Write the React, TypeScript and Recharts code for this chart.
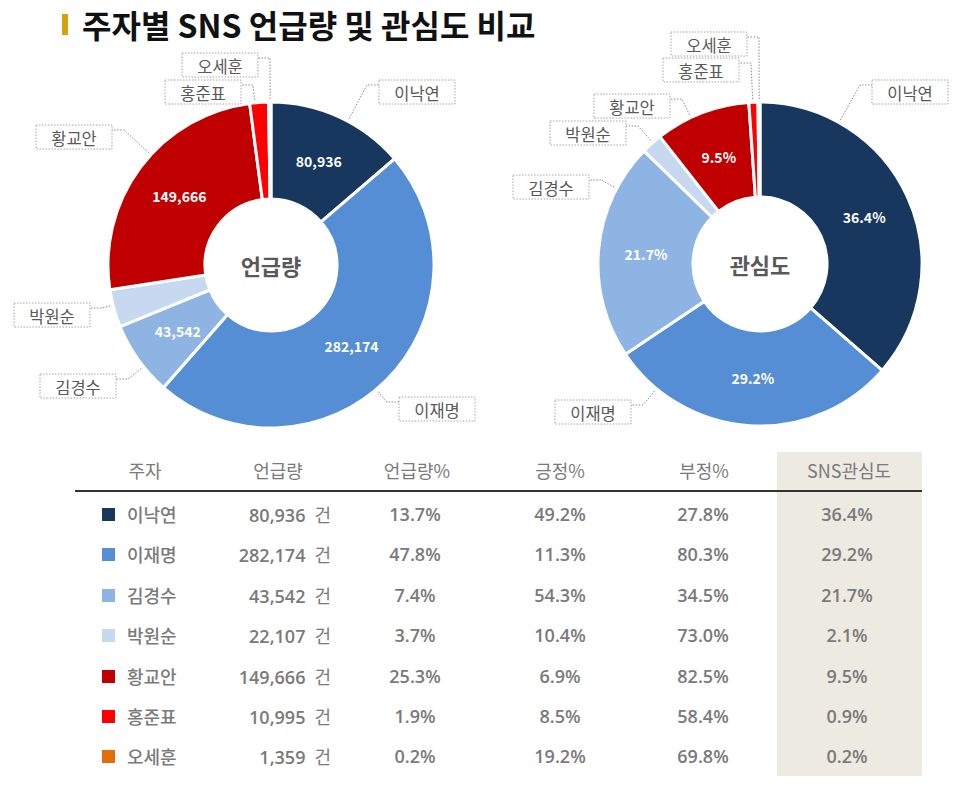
import { PieChart, Pie, Cell } from 'recharts';

const candidates = ['이낙연', '이재명', '김경수', '박원순', '황교안', '홍준표', '오세훈'];
const mentions = [80936, 282174, 43542, 22107, 149666, 10995, 1359];
const mentionPct = [13.7, 47.8, 7.4, 3.7, 25.3, 1.9, 0.2];
const positivePct = [49.2, 11.3, 54.3, 10.4, 6.9, 8.5, 19.2];
const negativePct = [27.8, 80.3, 34.5, 73.0, 82.5, 58.4, 69.8];
const interestPct = [36.4, 29.2, 21.7, 2.1, 9.5, 0.9, 0.2];

const sliceColors = ['#17375E', '#558ED5', '#8EB4E3', '#C6D9F1', '#C00000', '#FF0000', '#E46C0A'];

const FONT = '"Noto Sans CJK KR", "Noto Sans", sans-serif';
const TABLE_FONT = '"Open Sans", "Noto Sans CJK KR", sans-serif';
const RADIAN = Math.PI / 180;

// 콜아웃 상자 위치 (파이 중심 기준 오프셋), side = 지시선이 붙는 쪽
type Callout = { dx: number; dy: number; side: 'left' | 'right' };
const leftCallouts: Record<string, Callout> = {
  이낙연: { dx: 146, dy: -173, side: 'left' },
  이재명: { dx: 166, dy: 144, side: 'left' },
  김경수: { dx: -193, dy: 121, side: 'right' },
  박원순: { dx: -219, dy: 50, side: 'right' },
  황교안: { dx: -197, dy: -128, side: 'right' },
  홍준표: { dx: -68, dy: -173, side: 'right' },
  오세훈: { dx: -51, dy: -200, side: 'right' },
};
const rightCallouts: Record<string, Callout> = {
  이낙연: { dx: 150, dy: -172, side: 'left' },
  이재명: { dx: -167, dy: 148, side: 'right' },
  김경수: { dx: -209, dy: -77, side: 'right' },
  박원순: { dx: -172, dy: -131, side: 'right' },
  황교안: { dx: -128, dy: -158, side: 'right' },
  홍준표: { dx: -59, dy: -194, side: 'right' },
  오세훈: { dx: -51, dy: -220, side: 'right' },
};

const mentionData = candidates.map((name, i) => ({ name, value: mentions[i], pct: mentionPct[i], text: mentions[i].toLocaleString('en-US') }));
const interestData = candidates.map((name, i) => ({ name, value: interestPct[i], pct: interestPct[i], text: `${interestPct[i].toFixed(1)}%` }));

const BOX_W = 76;
const BOX_H = 24;

// 지시선이 닿는 각도: 상자 쪽 방향을 조각 범위 안으로 제한
function anchorAngle(target: number, start: number, end: number) {
  const hi = Math.max(start, end) - 0.3;
  const lo = Math.min(start, end) + 0.3;
  let a = target;
  while (a > hi) a -= 360;
  while (a < lo - 360) a += 360;
  if (a >= lo) return a;
  const dLo = lo - a;
  const dHi = a + 360 - hi;
  return dLo < dHi ? lo : hi;
}

function makeLabel(callouts: Record<string, Callout>) {
  return (props: any) => {
    const { cx, cy, midAngle, innerRadius, outerRadius, index, percent } = props;
    const name = props.name ?? props.payload?.name;
    const entry = props.payload ?? {};
    const cos = Math.cos(-midAngle * RADIAN);
    const sin = Math.sin(-midAngle * RADIAN);
    const rMid = (innerRadius + outerRadius) / 2;
    const c = callouts[name];
    const bx = cx + c.dx;
    const by = cy + c.dy;
    const ax = c.side === 'left' ? bx - BOX_W / 2 : bx + BOX_W / 2;
    const ay = by - BOX_H / 2 + 5;
    const ex = c.side === 'left' ? ax - 12 : ax + 12;
    const half = percent * 180;
    const target = Math.atan2(-(ay - cy), ex - cx) / RADIAN;
    const ang = anchorAngle(target, midAngle + half, midAngle - half);
    const px = cx + (outerRadius + 3) * Math.cos(-ang * RADIAN);
    const py = cy + (outerRadius + 3) * Math.sin(-ang * RADIAN);
    return (
      <g key={`lbl-${index}`}>
        {entry.pct >= 5 && (
          <text x={cx + rMid * cos} y={cy + rMid * sin} fill="#fff" fontSize={14} fontWeight={700}
            textAnchor="middle" dominantBaseline="central" fontFamily={FONT}>
            {entry.text}
          </text>
        )}
        <polyline points={`${px},${py} ${ex},${ay} ${ax},${ay}`} fill="none" stroke="#8C8C8C"
          strokeWidth={1} strokeDasharray="1.5 1.5" />
        <rect x={bx - BOX_W / 2} y={by - BOX_H / 2} width={BOX_W} height={BOX_H} fill="#fff"
          stroke="#A6A6A6" strokeWidth={1} strokeDasharray="1.5 1.5" />
        <text x={bx} y={by + 1} fill="#595959" fontSize={16.5} textAnchor="middle" dominantBaseline="central"
          fontFamily={FONT}>
          {name}
        </text>
      </g>
    );
  };
}

const columns = [
  { key: 'mention', title: '언급량', center: 278 },
  { key: 'mentionPct', title: '언급량%', center: 417 },
  { key: 'pos', title: '긍정%', center: 560 },
  { key: 'neg', title: '부정%', center: 704 },
  { key: 'interest', title: 'SNS관심도', center: 849 },
];

export default function App() {
  const rowY = (i: number) => 514 + i * 40.4;
  const cellStyle = (x: number, y: number, w = 120): React.CSSProperties => ({
    position: 'absolute',
    left: x - w / 2,
    top: y - 14,
    width: w,
    height: 28,
    lineHeight: '28px',
    textAlign: 'center',
    fontSize: 18,
    fontWeight: 600,
    fontFamily: TABLE_FONT,
    color: '#7A7A7A',
  });
  const headStyle = (x: number, w = 140): React.CSSProperties => ({
    ...cellStyle(x, 470, w),
    fontWeight: 400,
    fontFamily: FONT,
  });

  return (
    <div style={{ position: 'relative', width: 960, height: 790, fontFamily: FONT, background: '#fff', overflow: 'hidden' }}>
      <style>{'body{margin:0}'}</style>
      {/* 제목 */}
      <div style={{ position: 'absolute', left: 62, top: 14, width: 6, height: 21, background: '#D4A20C' }} />
      <div style={{ position: 'absolute', left: 82, top: 2, fontSize: 32, fontWeight: 700, color: '#111', lineHeight: '44px', whiteSpace: 'nowrap' }}>
        주자별 SNS 언급량 및 관심도 비교
      </div>

      <div style={{ position: 'absolute', left: 0, top: 0 }}>
        <PieChart width={960} height={445} margin={{ top: 0, right: 0, bottom: 0, left: 0 }}>
          <Pie data={mentionData} dataKey="value" nameKey="name" cx={271} cy={265} innerRadius={66} outerRadius={163}
            startAngle={90} endAngle={-270} stroke="#fff" strokeWidth={3} isAnimationActive={false}
            label={makeLabel(leftCallouts)} labelLine={false}>
            {mentionData.map((d, i) => <Cell key={d.name} fill={sliceColors[i]} />)}
          </Pie>
          <Pie data={interestData} dataKey="value" nameKey="name" cx={760} cy={264} innerRadius={67} outerRadius={162}
            startAngle={90} endAngle={-270} stroke="#fff" strokeWidth={3} isAnimationActive={false}
            label={makeLabel(rightCallouts)} labelLine={false}>
            {interestData.map((d, i) => <Cell key={d.name} fill={sliceColors[i]} />)}
          </Pie>
          <text x={271} y={265} textAnchor="middle" dominantBaseline="central" fontSize={22} fontWeight={700}
            fill="#595959" fontFamily={FONT}>언급량</text>
          <text x={760} y={264} textAnchor="middle" dominantBaseline="central" fontSize={22} fontWeight={700}
            fill="#595959" fontFamily={FONT}>관심도</text>
        </PieChart>
      </div>

      {/* 표 */}
      <div style={{ position: 'absolute', left: 777, top: 452, width: 145, height: 324, background: '#EDEAE2' }} />
      <div style={{ position: 'absolute', left: 75, top: 490, width: 847, height: 2, background: '#333' }} />
      <div style={headStyle(145, 120)}>주자</div>
      {columns.map((c) => (
        <div key={c.key} style={headStyle(c.center)}>{c.title}</div>
      ))}
      {candidates.map((name, i) => (
        <div key={name}>
          <div style={{ position: 'absolute', left: 102, top: rowY(i) - 6, width: 13, height: 13, background: sliceColors[i] }} />
          <div style={{ ...cellStyle(0, rowY(i)), left: 127, textAlign: 'left', fontFamily: FONT, fontWeight: 500 }}>{name}</div>
          <div style={{ ...cellStyle(0, rowY(i)), left: 170, width: 161, textAlign: 'right' }}>
            {mentions[i].toLocaleString('en-US')}
            <span style={{ fontFamily: FONT, fontWeight: 400, marginLeft: 9 }}>건</span>
          </div>
          <div style={cellStyle(415, rowY(i))}>{mentionPct[i].toFixed(1)}%</div>
          <div style={cellStyle(560, rowY(i))}>{positivePct[i].toFixed(1)}%</div>
          <div style={cellStyle(703, rowY(i))}>{negativePct[i].toFixed(1)}%</div>
          <div style={cellStyle(847, rowY(i))}>{interestPct[i].toFixed(1)}%</div>
        </div>
      ))}
    </div>
  );
}
